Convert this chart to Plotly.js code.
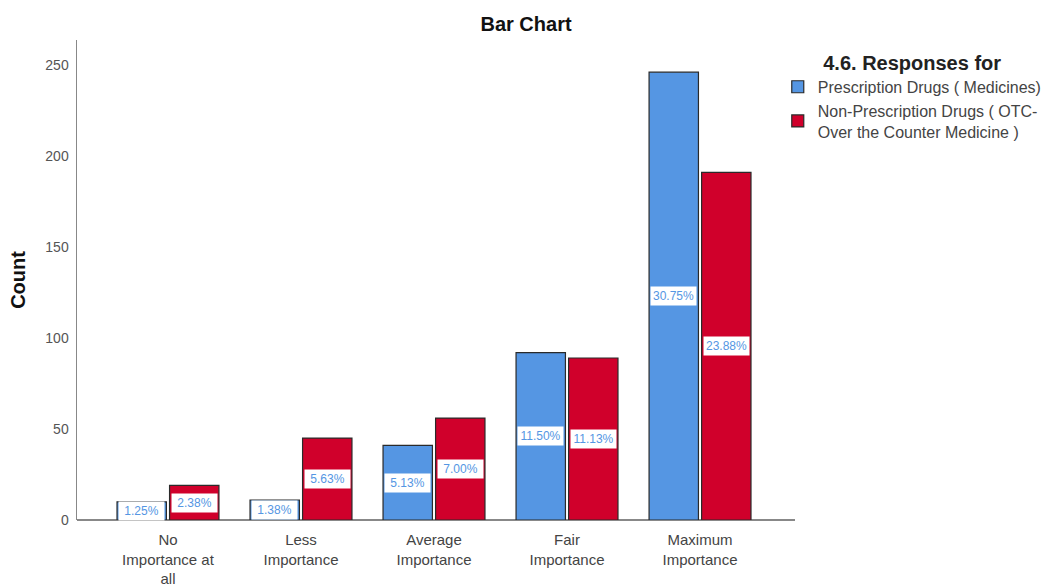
<!DOCTYPE html>
<html>
<head>
<meta charset="utf-8">
<script src="https://cdn.plot.ly/plotly-3.0.1.min.js"></script>
<style>html,body{margin:0;padding:0;background:#fff;}#chart{width:1047px;height:586px;}</style>
</head>
<body>
<div id="chart"></div>
<script>
var categories = ["No<br>Importance at<br>all", "Less<br>Importance", "Average<br>Importance", "Fair<br>Importance", "Maximum<br>Importance"];
var seriesNames = ["Prescription Drugs ( Medicines)", "Non-Prescription Drugs ( OTC-<br>Over the Counter Medicine )"];
var prescription = [10, 11, 41, 92, 246];
var nonPrescription = [19, 45, 56, 89, 191];
var prescriptionPct = ["1.25%", "1.38%", "5.13%", "11.50%", "30.75%"];
var nonPrescriptionPct = ["2.38%", "5.63%", "7.00%", "11.13%", "23.88%"];
var yTicks = [0, 50, 100, 150, 200, 250];

var colors = ["#5596e3", "#d0002b"];
var bargap = 0.21, bargroupgap = 0.06;
var xRange = [-0.684, 4.714];
var margin = {l: 77, r: 252, t: 40, b: 66};
var W = 1047, H = 586;
var xIdx = categories.map(function(_, i){ return i; });

var traces = [prescription, nonPrescription].map(function(vals, k){
  return {
    type: "bar",
    name: seriesNames[k],
    x: xIdx,
    y: vals,
    marker: {color: colors[k], line: {color: "#2a2a2a", width: 1.2}},
    hoverinfo: "y"
  };
});

var slot = (1 - bargap) / 2;
var pxPerUnit = (W - margin.l - margin.r) / (xRange[1] - xRange[0]);
var labelW = Math.round(slot * (1 - bargroupgap) * pxPerUnit);
var annotations = [];
[prescriptionPct, nonPrescriptionPct].forEach(function(labels, k){
  var vals = k === 0 ? prescription : nonPrescription;
  labels.forEach(function(t, i){
    annotations.push({
      x: i + (k === 0 ? -slot / 2 : slot / 2),
      y: vals[i] / 2,
      xref: "x", yref: "y",
      text: t,
      showarrow: false,
      bgcolor: "#ffffff",
      borderpad: 0,
      width: labelW - 4,
      height: 18,
      font: {family: "Liberation Sans, Arial, sans-serif", size: 12, color: "#5596e3"}
    });
  });
});

var layout = {
  width: W, height: H,
  margin: {l: margin.l, r: margin.r, t: margin.t, b: margin.b, autoexpand: false},
  paper_bgcolor: "#ffffff",
  plot_bgcolor: "#ffffff",
  font: {family: "Liberation Sans, Arial, sans-serif", color: "#333333"},
  title: {text: "<b>Bar Chart</b>", x: 0.5024, xref: "container", xanchor: "center",
          y: 0.959, yref: "container", yanchor: "middle",
          font: {size: 20, color: "#111111"}},
  barmode: "group",
  bargap: bargap,
  bargroupgap: bargroupgap,
  showlegend: true,
  legend: {
    x: 0.976, xanchor: "left", y: 0.992, yanchor: "top",
    title: {text: "<b>4.6. Responses for</b>", side: "top center", font: {size: 20, color: "#222222"}},
    font: {size: 16, color: "#444444"},
    tracegroupgap: 0,
    itemwidth: 30
  },
  xaxis: {
    type: "linear",
    range: xRange,
    tickmode: "array",
    tickvals: xIdx,
    ticktext: categories,
    showgrid: false, zeroline: false,
    showline: false,
    ticks: "",
    ticklabelstandoff: 9,
    tickfont: {size: 15, color: "#444444"}
  },
  yaxis: {
    range: [0, 263.7],
    tickmode: "array",
    tickvals: yTicks,
    showgrid: false, zeroline: true, zerolinecolor: "#888888", zerolinewidth: 1.5,
    showline: true, linecolor: "#888888", linewidth: 1.5,
    ticks: "",
    ticklabelstandoff: 4,
    tickfont: {size: 14, color: "#555555"},
    title: {text: "<b>Count</b>", font: {size: 20, color: "#111111"}, standoff: 14}
  },
  annotations: annotations
};

Plotly.newPlot("chart", traces, layout, {displayModeBar: false, staticPlot: true});
</script>
</body>
</html>
